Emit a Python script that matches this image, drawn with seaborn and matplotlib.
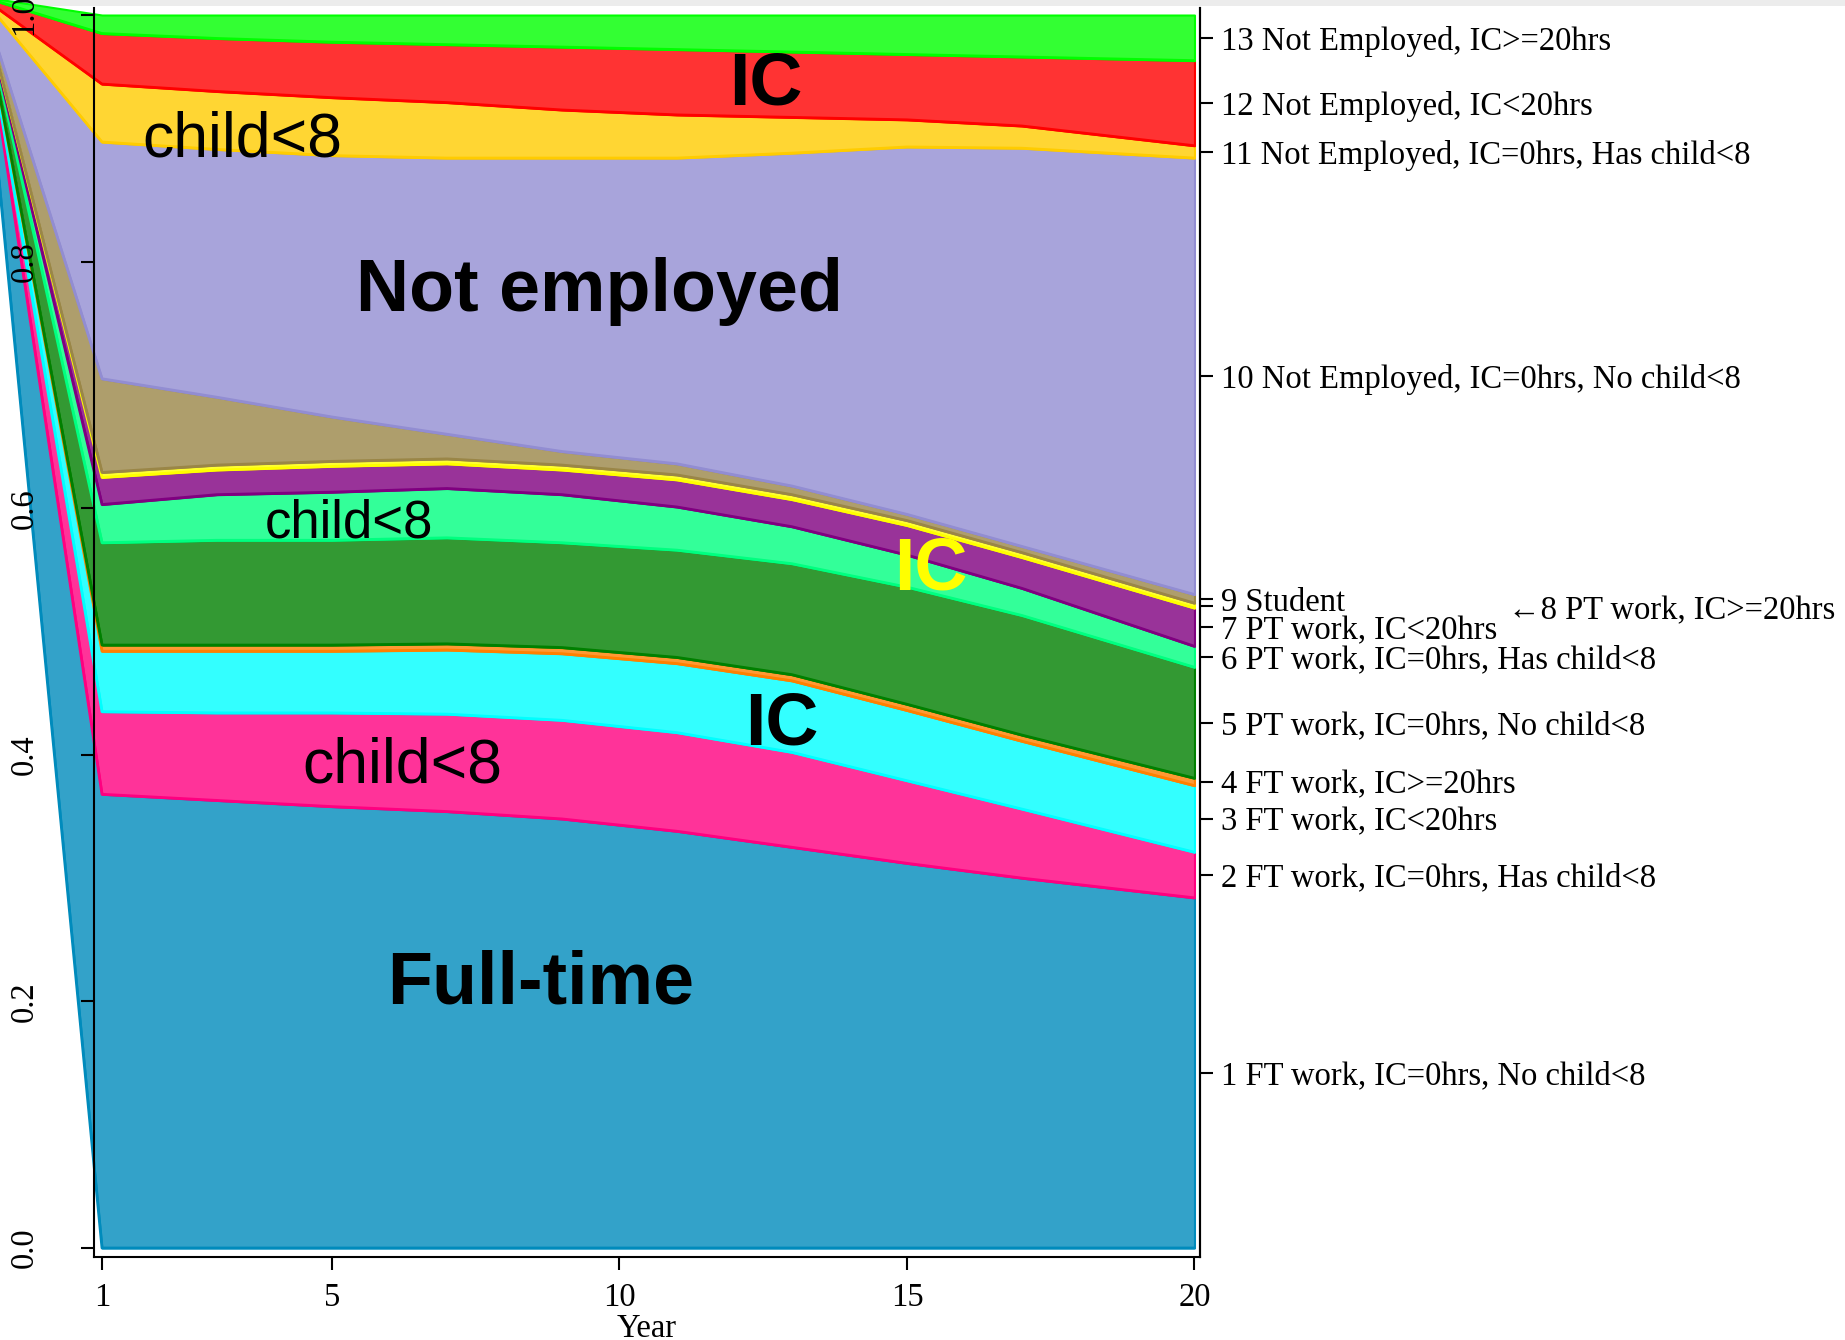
import numpy as np
import pandas as pd
import matplotlib
matplotlib.use("Agg")
import matplotlib.pyplot as plt
import seaborn as sns
from matplotlib.patches import Rectangle

sns.set_theme(style="white")
plt.rcParams['font.family'] = ['Liberation Serif', 'DejaVu Serif']

# ---------------- data ----------------
years = [1, 3, 5, 7, 9, 11, 13, 15, 17, 20]
# all boundaries fan in to this point left of the axis in the reference
lead_in_year = -1.1
lead_in_level = 1.015

ft_no_child  = [0.368, 0.363, 0.358, 0.354, 0.348, 0.338, 0.325, 0.312, 0.300, 0.284]
ft_has_child = [0.067, 0.071, 0.076, 0.079, 0.080, 0.080, 0.077, 0.067, 0.056, 0.037]
ft_ic_lt20   = [0.049, 0.050, 0.050, 0.052, 0.054, 0.056, 0.058, 0.057, 0.055, 0.054]
ft_ic_ge20   = [0.005, 0.005, 0.005, 0.005, 0.005, 0.005, 0.005, 0.005, 0.005, 0.006]
pt_no_child  = [0.083, 0.085, 0.085, 0.086, 0.085, 0.087, 0.090, 0.095, 0.097, 0.090]
pt_has_child = [0.031, 0.037, 0.039, 0.040, 0.039, 0.035, 0.030, 0.026, 0.022, 0.017]
pt_ic_lt20   = [0.022, 0.020, 0.021, 0.020, 0.020, 0.022, 0.022, 0.024, 0.025, 0.031]
pt_ic_ge20   = [0.004, 0.004, 0.004, 0.004, 0.004, 0.004, 0.004, 0.004, 0.004, 0.004]
student      = [0.076, 0.055, 0.036, 0.020, 0.011, 0.009, 0.007, 0.005, 0.005, 0.007]
ne_no_child  = [0.192, 0.201, 0.212, 0.224, 0.238, 0.248, 0.270, 0.298, 0.323, 0.354]
ne_has_child = [0.047, 0.047, 0.047, 0.045, 0.039, 0.035, 0.029, 0.022, 0.018, 0.010]
ne_ic_lt20   = [0.041, 0.043, 0.045, 0.047, 0.051, 0.053, 0.053, 0.053, 0.056, 0.069]
ne_ic_ge20   = [0.015, 0.019, 0.022, 0.024, 0.026, 0.028, 0.030, 0.032, 0.034, 0.037]

state_labels = [
    "1 FT work, IC=0hrs, No child<8",
    "2 FT work, IC=0hrs, Has child<8",
    "3 FT work, IC<20hrs",
    "4 FT work, IC>=20hrs",
    "5 PT work, IC=0hrs, No child<8",
    "6 PT work, IC=0hrs, Has child<8",
    "7 PT work, IC<20hrs",
    "8 PT work, IC>=20hrs",
    "9 Student",
    "10 Not Employed, IC=0hrs, No child<8",
    "11 Not Employed, IC=0hrs, Has child<8",
    "12 Not Employed, IC<20hrs",
    "13 Not Employed, IC>=20hrs",
]
y_tick_labels = ["0.0", "0.2", "0.4", "0.6", "0.8", "1.0"]
x_ticks = [1, 5, 10, 15, 20]

edge_colors = ["#008BBC", "#FF0080", "#00FFFF", "#FF8000", "#008000", "#00FF80",
               "#800080", "#FFFF00", "#9A8647", "#928DD2", "#FFCC00", "#FF0000", "#00FF00"]
fill_colors = ["#33A2C9", "#FF3399", "#33FFFF", "#FF9933", "#339933", "#33FF99",
               "#993399", "#FFFF33", "#AE9E6C", "#A8A4DB", "#FFD633", "#FF3333", "#33FF33"]

series = [ft_no_child, ft_has_child, ft_ic_lt20, ft_ic_ge20, pt_no_child, pt_has_child,
          pt_ic_lt20, pt_ic_ge20, student, ne_no_child, ne_has_child, ne_ic_lt20, ne_ic_ge20]

shares = np.array(series)
cum = np.cumsum(shares, axis=0)
lower = np.vstack([np.zeros(len(years)), cum[:-1]])
xs = np.concatenate([[lead_in_year], years])

# ---------------- figure ----------------
W, H = 1845, 1340
fig = plt.figure(figsize=(W / 100, H / 100), dpi=100)
fig.patch.set_facecolor("white")
fig.patches.append(Rectangle((0, 1 - 6 / H), 1, 6 / H, transform=fig.transFigure,
                             facecolor="#ececec", edgecolor="none", zorder=-1))

left, right, bottom, top = 94 / W, 1200 / W, 1 - 1257 / H, 1 - 8 / H
ax = fig.add_axes([left, bottom, right - left, top - bottom])
ax.set_facecolor("white")
ax.set_axisbelow(False)

rows = []
for i in range(len(series)):
    lo = np.concatenate([[lead_in_level], lower[i]])
    hi = np.concatenate([[lead_in_level], cum[i]])
    ax.fill_between(xs, lo, hi, facecolor=fill_colors[i], edgecolor=edge_colors[i],
                    linewidth=1.5, clip_on=False, zorder=2)
    for xv, yv in zip(xs, lo):
        rows.append({"state": state_labels[i], "year": xv, "level": yv})

df = pd.DataFrame(rows)
sns.lineplot(data=df, x="year", y="level", hue="state", hue_order=state_labels,
             palette=dict(zip(state_labels, edge_colors)), estimator=None,
             legend=False, linewidth=2, ax=ax, zorder=2.2)
for ln in ax.lines:
    ln.set_clip_on(False)

ax.set_xlim(0.861, 20.096)
ax.set_ylim(-0.0073, 1.0057)
ax.set_xticks(x_ticks)
ax.set_xticklabels([str(v) for v in x_ticks])
ax.set_yticks([0, 0.2, 0.4, 0.6, 0.8, 1.0])
ax.set_yticklabels(y_tick_labels)
ax.tick_params(axis="x", direction="out", length=9.4, width=1.5, labelsize=23.5,
               pad=9, bottom=True, colors="black")
ax.tick_params(axis="y", direction="out", length=9.4, width=1.5, labelsize=23.5,
               pad=30, left=True, labelrotation=90, colors="black")
for lab in ax.get_yticklabels():
    lab.set_va("center")
ax.set_xlabel("Year", fontsize=23.5, labelpad=0.5, color="black")
ax.set_ylabel("")
for s in ["left", "bottom", "right"]:
    ax.spines[s].set_visible(True)
    ax.spines[s].set_color("black")
    ax.spines[s].set_linewidth(1.5)
    ax.spines[s].set_zorder(3)
ax.spines["top"].set_visible(False)

# right axis with state labels at year-20 midpoints
ax2 = ax.twinx()
ax2.set_ylim(ax.get_ylim())
mids = (lower[:, -1] + cum[:, -1]) / 2
ax2.set_yticks(mids)
right_labels = [lab if k != 7 else "" for k, lab in enumerate(state_labels)]
ax2.set_yticklabels(right_labels)
ax2.tick_params(axis="y", direction="out", length=9.4, width=1.5, labelsize=23.5,
                pad=6, right=True, colors="black")
for s in ["left", "bottom", "top"]:
    ax2.spines[s].set_visible(False)
ax2.spines["right"].set_color("black")
ax2.spines["right"].set_linewidth(1.5)
ax2.grid(False)
ax2.set_ylabel("")
ax.text(25.45, 0.517, "\u21908 PT work, IC>=20hrs", fontsize=23.5, va="center",
        ha="left", clip_on=False, color="black")

# in-plot annotations
sans = ["Liberation Sans", "DejaVu Sans"]
big = dict(fontsize=53, fontweight="bold", family=sans, ha="center", va="center", zorder=5)
mid = dict(family=sans, ha="center", va="center", zorder=5)
ax.text(12.55, 0.943, "IC", color="black", **big)
ax.text(9.66, 0.776, "Not employed", color="black", **big)
ax.text(15.42, 0.550, "IC", color="#FFFF00", **big)
ax.text(12.83, 0.424, "IC", color="black", **big)
ax.text(8.62, 0.214, "Full-time", color="black", **big)
ax.text(3.44, 0.899, "child<8", fontsize=45, color="black", **mid)
ax.text(5.30, 0.588, "child<8", fontsize=38, color="black", **mid)
ax.text(6.22, 0.391, "child<8", fontsize=45, color="black", **mid)

fig.savefig("out.png", dpi=100, facecolor="white")
